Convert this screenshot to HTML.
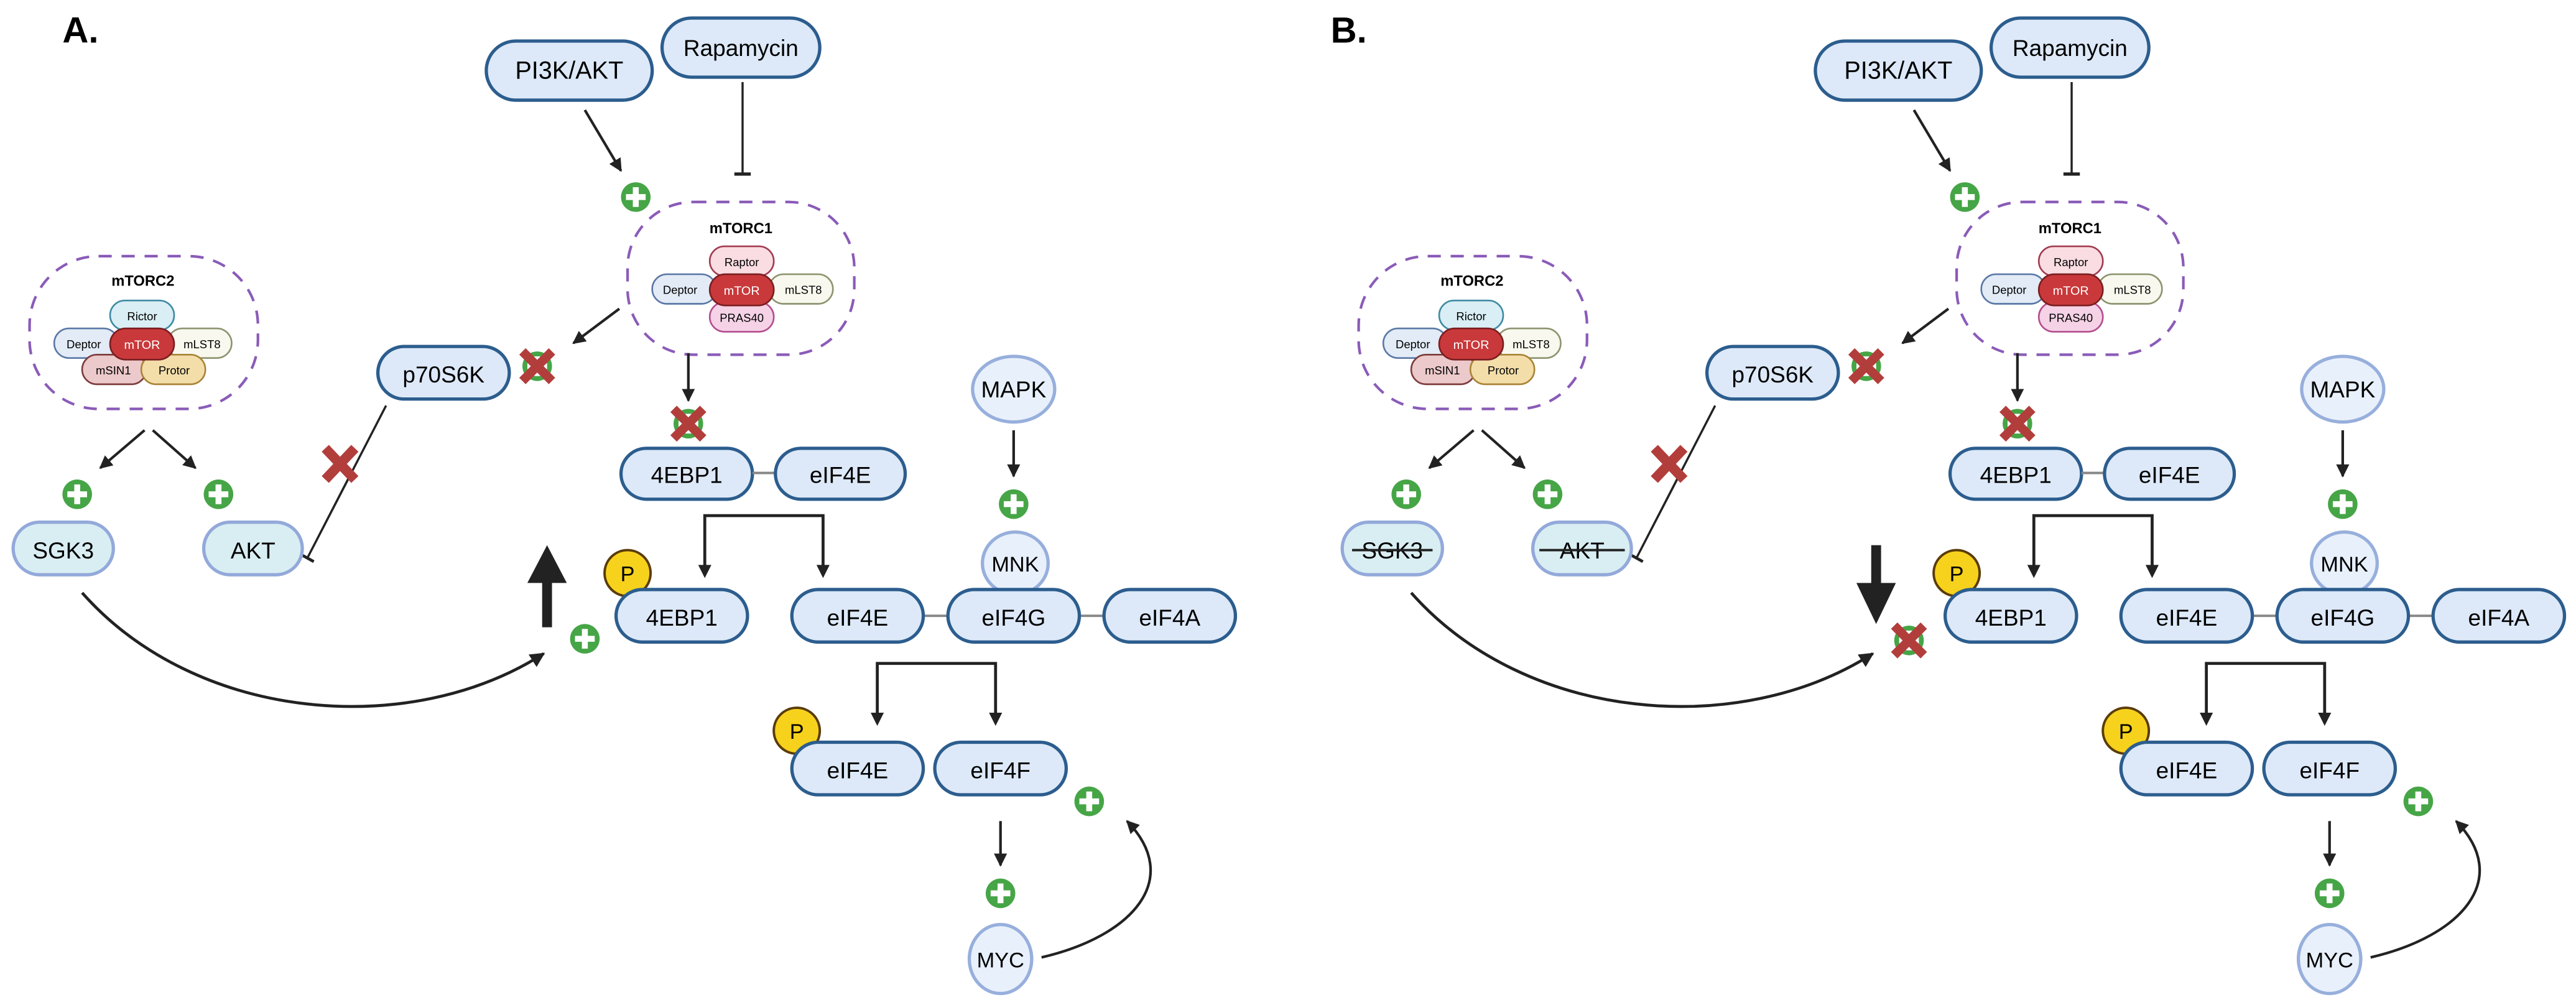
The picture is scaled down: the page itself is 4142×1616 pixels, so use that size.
<!DOCTYPE html>
<html><head><meta charset="utf-8"><style>
html,body{margin:0;padding:0;background:#fff;}
svg{display:block;}
text{font-family:"Liberation Sans",sans-serif;}
</style></head><body>
<svg width="4142" height="1616" viewBox="0 0 1568 612" preserveAspectRatio="none" xmlns="http://www.w3.org/2000/svg">
<defs>
<marker id="ah" viewBox="0 0 10 10" refX="9" refY="5" markerWidth="5" markerHeight="5" orient="auto"><path d="M0,0 L10,5 L0,10 z" fill="#222"/></marker>
<linearGradient id="fadeA" x1="0" y1="0" x2="1" y2="0"><stop offset="0" stop-color="#222" stop-opacity="0"/><stop offset="0.5" stop-color="#222"/></linearGradient>
<g id="plus"><circle r="9" fill="#46a546"/><rect x="-6" y="-1.8" width="12" height="3.6" fill="#fff"/><rect x="-1.8" y="-6" width="3.6" height="12" fill="#fff"/></g>
<g id="xm"><use href="#plus"/><path d="M-9,-9 L9,9 M9,-9 L-9,9" stroke="#b23e3c" stroke-width="5.5"/></g>
<g id="panel">
<!-- top inputs -->
<rect x="296" y="25" width="101" height="36" rx="18" fill="#dde9f8" stroke="#2c5d8e" stroke-width="2"/>
<text x="346.5" y="48" font-size="15" text-anchor="middle">PI3K/AKT</text>
<rect x="403" y="11" width="96" height="36" rx="18" fill="#dde9f8" stroke="#2c5d8e" stroke-width="2"/>
<text x="451" y="34" font-size="14" text-anchor="middle">Rapamycin</text>
<line x1="452" y1="50" x2="452" y2="106" stroke="#222" stroke-width="1.3"/>
<line x1="447" y1="106" x2="457" y2="106" stroke="#222" stroke-width="2"/>
<line x1="356" y1="67" x2="378" y2="104" stroke="#222" stroke-width="1.6" marker-end="url(#ah)"/>
<use href="#plus" x="387" y="120"/>
<!-- mTORC1 -->
<rect x="382" y="123" width="138" height="93" rx="40" fill="none" stroke="#8a5bb8" stroke-width="1.6" stroke-dasharray="8,6"/>
<text x="451" y="142" font-size="9" font-weight="bold" text-anchor="middle">mTORC1</text>
<rect x="432" y="150" width="39" height="18" rx="9" fill="#f9dde3" stroke="#a23b50" stroke-width="1"/>
<text x="451.5" y="162" font-size="7" text-anchor="middle">Raptor</text>
<rect x="432" y="184" width="39" height="18" rx="9" fill="#f5d2e6" stroke="#b44d8e" stroke-width="1"/>
<text x="451.5" y="196" font-size="7" text-anchor="middle">PRAS40</text>
<rect x="397" y="167" width="39" height="18" rx="9" fill="#e3ebf6" stroke="#5a78a6" stroke-width="1"/>
<text x="414" y="179" font-size="7" text-anchor="middle">Deptor</text>
<rect x="468" y="167" width="39" height="18" rx="9" fill="#f8f8ee" stroke="#8c9470" stroke-width="1"/>
<text x="489" y="179" font-size="7" text-anchor="middle">mLST8</text>
<rect x="432" y="167" width="39" height="19" rx="9.5" fill="#c9393b" stroke="#7a1e20" stroke-width="1"/>
<text x="451.5" y="179.5" font-size="7.5" fill="#fff" text-anchor="middle">mTOR</text>
<!-- mTORC2 -->
<rect x="18" y="156" width="139" height="93" rx="42" fill="none" stroke="#8a5bb8" stroke-width="1.6" stroke-dasharray="8,6"/>
<text x="87" y="174" font-size="9" font-weight="bold" text-anchor="middle">mTORC2</text>
<rect x="67" y="183" width="39" height="18" rx="9" fill="#d9eef5" stroke="#3f8aa3" stroke-width="1"/>
<text x="86.5" y="195" font-size="7" text-anchor="middle">Rictor</text>
<rect x="33" y="200" width="39" height="18" rx="9" fill="#e3ebf6" stroke="#5a78a6" stroke-width="1"/>
<text x="51" y="212" font-size="7" text-anchor="middle">Deptor</text>
<rect x="102" y="200" width="39" height="18" rx="9" fill="#f8f8ee" stroke="#8c9470" stroke-width="1"/>
<text x="123" y="212" font-size="7" text-anchor="middle">mLST8</text>
<rect x="50" y="216" width="39" height="18" rx="9" fill="#ecc9ca" stroke="#7c3b3b" stroke-width="1"/>
<text x="69" y="228" font-size="7" text-anchor="middle">mSIN1</text>
<rect x="86" y="216" width="39" height="18" rx="9" fill="#f3deaa" stroke="#a88436" stroke-width="1"/>
<text x="106" y="228" font-size="7" text-anchor="middle">Protor</text>
<rect x="67" y="200" width="39" height="19" rx="9.5" fill="#c9393b" stroke="#7a1e20" stroke-width="1"/>
<text x="86.5" y="212.5" font-size="7.5" fill="#fff" text-anchor="middle">mTOR</text>
<!-- mTORC2 arrows -->
<line x1="88" y1="262" x2="61" y2="285" stroke="#222" stroke-width="1.6" marker-end="url(#ah)"/>
<line x1="93" y1="262" x2="119" y2="285" stroke="#222" stroke-width="1.6" marker-end="url(#ah)"/>
<use href="#plus" x="47" y="301"/>
<use href="#plus" x="133" y="301"/>
<!-- p70S6K -->
<line x1="377" y1="188" x2="349" y2="209" stroke="#222" stroke-width="1.6" marker-end="url(#ah)"/>
<rect x="230" y="211" width="80" height="32" rx="16" fill="#dde9f8" stroke="#2c5d8e" stroke-width="2"/>
<text x="270" y="233" font-size="14" text-anchor="middle">p70S6K</text>
<use href="#xm" x="327" y="223"/>
<line x1="235" y1="247" x2="187" y2="340" stroke="url(#fadeA)" stroke-width="1.3"/>
<line x1="235" y1="247" x2="187" y2="340" stroke="#222" stroke-width="1.3" stroke-dasharray="0,50,60"/>
<line x1="182" y1="337" x2="191" y2="342" stroke="#222" stroke-width="1.8"/>
<path d="M198,273 L216,292 M216,273 L198,292" stroke="#b23e3c" stroke-width="6"/>
<!-- mTORC1 down -->
<line x1="419" y1="215" x2="419" y2="244" stroke="#222" stroke-width="1.6" marker-end="url(#ah)"/>
<use href="#xm" x="419" y="258"/>
<rect x="378" y="273" width="80" height="31" rx="15.5" fill="#dde9f8" stroke="#2c5d8e" stroke-width="2"/>
<text x="418" y="294" font-size="14" text-anchor="middle">4EBP1</text>
<line x1="458" y1="288" x2="472" y2="288" stroke="#888" stroke-width="1.5"/>
<rect x="472" y="273" width="79" height="31" rx="15.5" fill="#dde9f8" stroke="#2c5d8e" stroke-width="2"/>
<text x="511.5" y="294" font-size="14" text-anchor="middle">eIF4E</text>
<!-- MAPK -->
<ellipse cx="617" cy="237" rx="25" ry="20" fill="#e8f0fb" stroke="#97afdc" stroke-width="2"/>
<text x="617" y="242" font-size="14" text-anchor="middle">MAPK</text>
<line x1="617" y1="262" x2="617" y2="290" stroke="#222" stroke-width="1.6" marker-end="url(#ah)"/>
<use href="#plus" x="617" y="307"/>
<!-- bracket 1 -->
<path d="M429,350 L429,314 L501,314 L501,350" fill="none" stroke="#222" stroke-width="1.8"/>
<path d="M425,344 L433,344 L429,352 z M497,344 L505,344 L501,352 z" fill="#222"/>
<!-- MNK + row -->
<ellipse cx="618" cy="343" rx="20" ry="19" fill="#e8f0fb" stroke="#97afdc" stroke-width="2"/>
<text x="618" y="348" font-size="13" text-anchor="middle">MNK</text>
<circle cx="382" cy="349" r="14" fill="#f7d21c" stroke="#5a3c0a" stroke-width="1.5"/>
<text x="382" y="354" font-size="13" text-anchor="middle">P</text>
<rect x="375" y="359" width="80" height="32" rx="16" fill="#dde9f8" stroke="#2c5d8e" stroke-width="2"/>
<text x="415" y="381" font-size="14" text-anchor="middle">4EBP1</text>
<line x1="562" y1="375" x2="672" y2="375" stroke="#888" stroke-width="1.5"/>
<rect x="482" y="359" width="80" height="32" rx="16" fill="#dde9f8" stroke="#2c5d8e" stroke-width="2"/>
<text x="522" y="381" font-size="14" text-anchor="middle">eIF4E</text>
<rect x="577" y="359" width="80" height="32" rx="16" fill="#dde9f8" stroke="#2c5d8e" stroke-width="2"/>
<text x="617" y="381" font-size="14" text-anchor="middle">eIF4G</text>
<rect x="672" y="359" width="80" height="32" rx="16" fill="#dde9f8" stroke="#2c5d8e" stroke-width="2"/>
<text x="712" y="381" font-size="14" text-anchor="middle">eIF4A</text>
<!-- bracket 2 -->
<path d="M534,440 L534,404 L606,404 L606,440" fill="none" stroke="#222" stroke-width="1.8"/>
<path d="M530,434 L538,434 L534,442 z M602,434 L610,434 L606,442 z" fill="#222"/>
<circle cx="485" cy="445" r="14" fill="#f7d21c" stroke="#5a3c0a" stroke-width="1.5"/>
<text x="485" y="450" font-size="13" text-anchor="middle">P</text>
<rect x="482" y="452" width="80" height="32" rx="16" fill="#dde9f8" stroke="#2c5d8e" stroke-width="2"/>
<text x="522" y="474" font-size="14" text-anchor="middle">eIF4E</text>
<rect x="569" y="452" width="80" height="32" rx="16" fill="#dde9f8" stroke="#2c5d8e" stroke-width="2"/>
<text x="609" y="474" font-size="14" text-anchor="middle">eIF4F</text>
<use href="#plus" x="663" y="488"/>
<line x1="609" y1="500" x2="609" y2="527" stroke="#222" stroke-width="1.6" marker-end="url(#ah)"/>
<use href="#plus" x="609" y="544"/>
<ellipse cx="609" cy="584" rx="19" ry="21" fill="#e8f0fb" stroke="#97afdc" stroke-width="2"/>
<text x="609" y="589" font-size="13" text-anchor="middle">MYC</text>
<path d="M634,583 C690,570 720,535 686,500" fill="none" stroke="#222" stroke-width="1.6" marker-end="url(#ah)"/>
<!-- SGK3 / AKT -->
<rect x="8" y="318" width="61" height="32" rx="16" fill="#d9eef3" stroke="#93a9da" stroke-width="2"/>
<rect x="124" y="318" width="60" height="32" rx="16" fill="#d9eef3" stroke="#93a9da" stroke-width="2"/>
<path d="M50,361 C120,440 250,450 331,398" fill="none" stroke="#222" stroke-width="1.8" marker-end="url(#ah)"/>
</g>
</defs>

<text x="38" y="26" font-size="22" font-weight="bold">A.</text>
<use href="#panel"/>
<text x="38.5" y="340" font-size="14" text-anchor="middle">SGK3</text>
<text x="154" y="340" font-size="14" text-anchor="middle">AKT</text>
<path d="M330,382 L330,355 L321,355 L333,332 L345,355 L336,355 L336,382 z" fill="#222"/>
<use href="#plus" x="356" y="389"/>

<text x="810" y="26" font-size="22" font-weight="bold">B.</text>
<g transform="translate(809,0)">
<use href="#panel"/>
<text x="38.5" y="340" font-size="14" text-anchor="middle">SGK3</text>
<text x="154" y="340" font-size="14" text-anchor="middle">AKT</text>
<line x1="14" y1="335" x2="63" y2="335" stroke="#222" stroke-width="1.5"/>
<line x1="128" y1="335" x2="180" y2="335" stroke="#222" stroke-width="1.5"/>
<path d="M330,332 L330,355 L321,355 L333,380 L345,355 L336,355 L336,332 z" fill="#222"/>
<use href="#xm" x="353" y="390"/>
</g>
</svg>
</body></html>
